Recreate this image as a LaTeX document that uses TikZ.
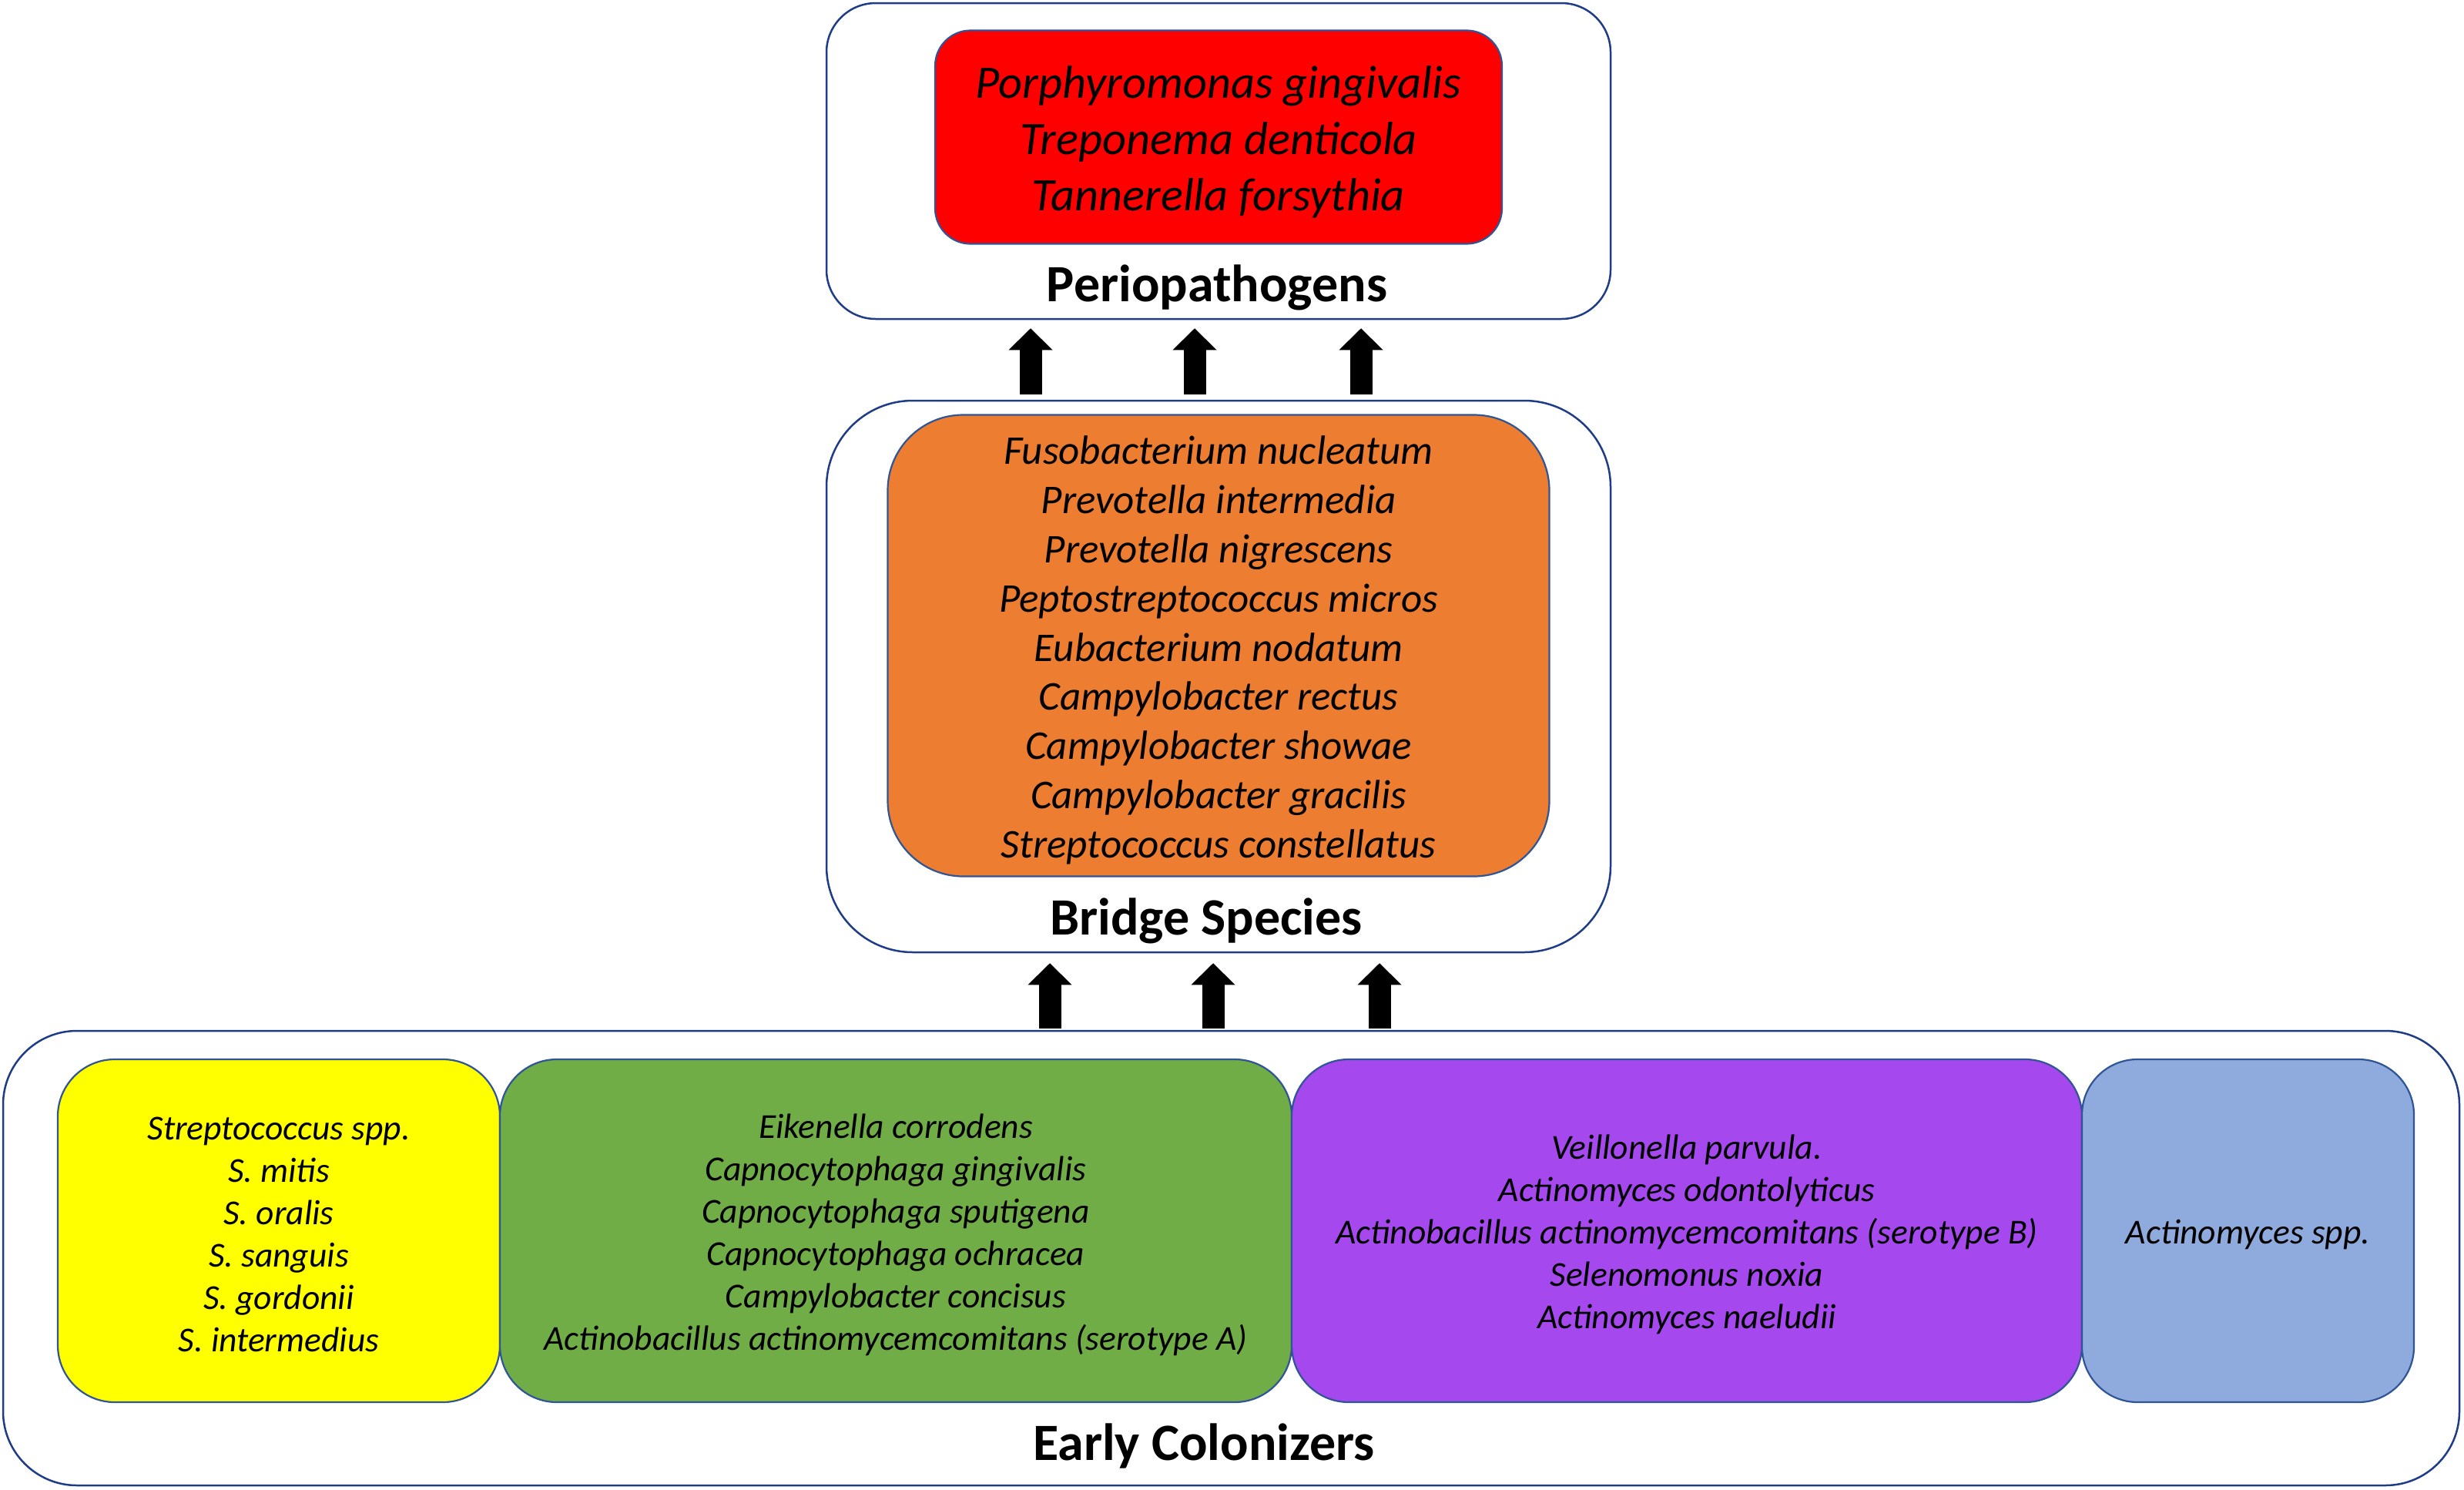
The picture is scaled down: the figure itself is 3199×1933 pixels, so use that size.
\documentclass[tikz,border=0pt]{standalone}
\usepackage{fontspec}
\setmainfont{Carlito}
\usetikzlibrary{arrows.meta}
\definecolor{navy}{HTML}{1F3C88}
\definecolor{edgeblue}{HTML}{2F5597}
\definecolor{cred}{HTML}{FF0000}
\definecolor{corange}{HTML}{ED7D31}
\definecolor{cyellow}{HTML}{FFFF00}
\definecolor{cgreen}{HTML}{70AD47}
\definecolor{cpurple}{HTML}{A548EE}
\definecolor{cblue}{HTML}{8FAADC}
\begin{document}
\begin{tikzpicture}[x=1pt,y=-1pt,
  outerbox/.style={draw=navy, line width=2.5pt, inner sep=0pt, fill=white},
  innerbox/.style={draw=edgeblue, line width=2.2pt, inner sep=0pt},
  boxtext/.style={align=center, inner sep=0pt},
  redtext/.style={boxtext, font=\fontsize{60.5}{73}\selectfont\itshape},
  oratext/.style={boxtext, font=\fontsize{53}{63.8}\selectfont\itshape},
  smalltext/.style={boxtext, font=\fontsize{45.5}{55}\selectfont\itshape},
  titletext/.style={font=\fontsize{68}{80}\selectfont\bfseries, inner sep=0pt},
  blockarrow/.style={line width=29pt, -{Triangle[width=57pt,length=28pt,line width=0pt]}}
]
\useasboundingbox (0,0) rectangle (3199,1933);

% Periopathogens
\node[outerbox, rounded corners=64pt, minimum width=1018pt, minimum height=410pt] (peri) at (1582,209) {};
\node[innerbox, fill=cred, rounded corners=46pt, minimum width=736pt, minimum height=277pt] (red) at (1582,178) {};
\node[redtext] (redlbl) at ([yshift=-6pt]red.center)
  {Porphyromonas gingivalis\\Treponema denticola\\Tannerella forsythia};
\node[titletext] (perititle) at (1580,373) {Periopathogens};

% Bridge species
\node[outerbox, rounded corners=112pt, minimum width=1018pt, minimum height=716pt] (bridge) at (1582,878) {};
\node[innerbox, fill=corange, rounded corners=98pt, minimum width=859pt, minimum height=599pt] (orange) at (1582,838) {};
\node[oratext] (oralbl) at ([yshift=-6pt]orange.center)
  {Fusobacterium nucleatum\\Prevotella intermedia\\Prevotella nigrescens\\Peptostreptococcus micros\\Eubacterium nodatum\\Campylobacter rectus\\Campylobacter showae\\Campylobacter gracilis\\Streptococcus constellatus};
\node[titletext] (bridgetitle) at (1566,1195) {Bridge Species};

% Early colonizers
\node[outerbox, rounded corners=96pt, minimum width=3189pt, minimum height=590pt] (early) at (1598.5,1633) {};
\node[innerbox, fill=cyellow, rounded corners=74pt, minimum width=574pt, minimum height=445pt] (yellow) at (362,1597.5) {};
\node[innerbox, fill=cgreen, rounded corners=74pt, minimum width=1028pt, minimum height=445pt] (green) at (1163,1597.5) {};
\node[innerbox, fill=cpurple, rounded corners=74pt, minimum width=1026pt, minimum height=445pt] (purple) at (2190,1597.5) {};
\node[innerbox, fill=cblue, rounded corners=72pt, minimum width=431pt, minimum height=445pt] (blue) at (2918.5,1597.5) {};
\node[smalltext] (yellowlbl) at ([yshift=-5pt]yellow.center)
  {Streptococcus spp.\\S. mitis\\S. oralis\\S. sanguis\\S. gordonii\\S. intermedius};
\node[smalltext] (greenlbl) at ([yshift=-5pt]green.center)
  {Eikenella corrodens\\Capnocytophaga gingivalis\\Capnocytophaga sputigena\\Capnocytophaga ochracea\\Campylobacter concisus\\Actinobacillus actinomycemcomitans (serotype A)};
\node[smalltext] (purplelbl) at ([yshift=-5pt]purple.center)
  {Veillonella parvula.\\Actinomyces odontolyticus\\Actinobacillus actinomycemcomitans (serotype B)\\Selenomonus noxia\\Actinomyces naeludii};
\node[smalltext] (bluelbl) at ([yshift=-5pt]blue.center) {Actinomyces spp.};
\node[titletext] (earlytitle) at (1563,1877) {Early Colonizers};

% arrows bridge -> periopathogens
\draw[blockarrow] ([xshift=-244pt,yshift=7pt]bridge.north) -- ([xshift=-244pt,yshift=-11pt]peri.south);
\draw[blockarrow] ([xshift=-31pt,yshift=7pt]bridge.north) -- ([xshift=-31pt,yshift=-11pt]peri.south);
\draw[blockarrow] ([xshift=185pt,yshift=7pt]bridge.north) -- ([xshift=185pt,yshift=-11pt]peri.south);

% arrows early -> bridge
\draw[blockarrow] ([xshift=-235.5pt,yshift=2pt]early.north) -- ([xshift=-219pt,yshift=-13pt]bridge.south);
\draw[blockarrow] ([xshift=-23.5pt,yshift=2pt]early.north) -- ([xshift=-7pt,yshift=-13pt]bridge.south);
\draw[blockarrow] ([xshift=192.5pt,yshift=2pt]early.north) -- ([xshift=209pt,yshift=-13pt]bridge.south);
\end{tikzpicture}
\end{document}
